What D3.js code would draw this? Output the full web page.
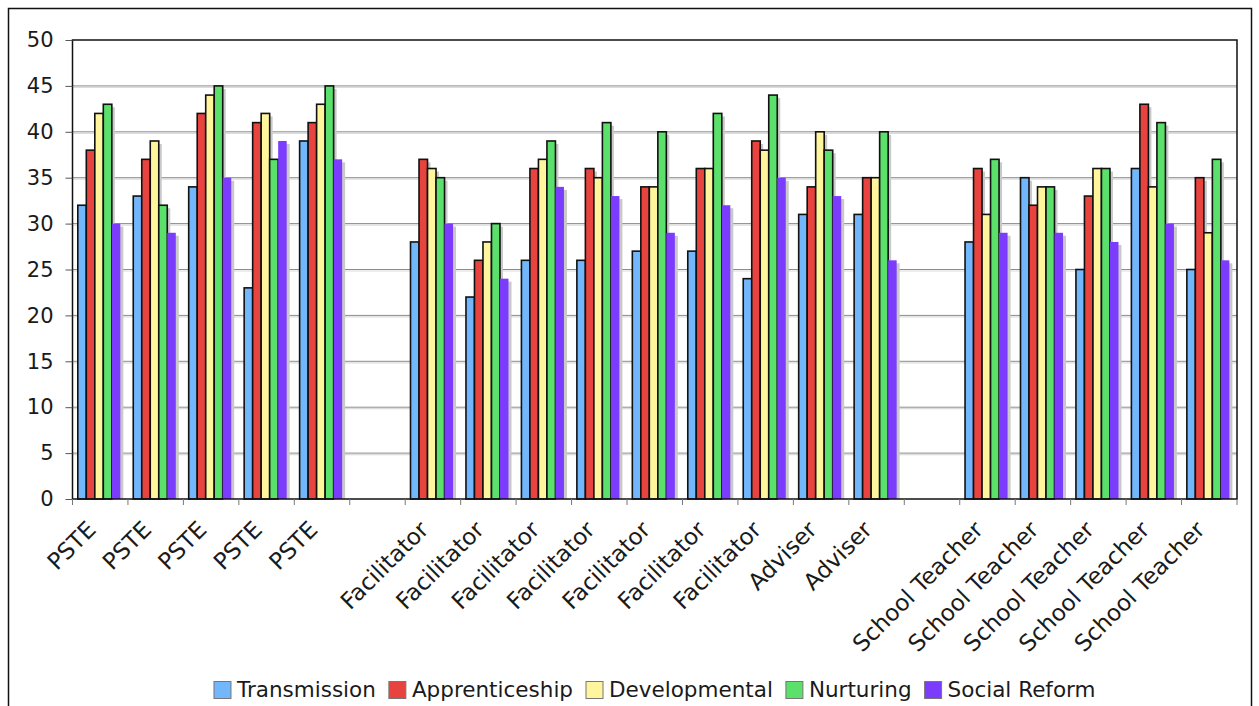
<!DOCTYPE html>
<html>
<head>
<meta charset="utf-8">
<script src="https://cdn.jsdelivr.net/npm/d3@7"></script>
<style>
  html, body { margin: 0; padding: 0; background: #fff; }
  svg { display: block; }
  text { font-family: "DejaVu Sans", Verdana, sans-serif; fill: #1a1a1a; }
</style>
</head>
<body>
<svg id="chart" width="1259" height="706"></svg>
<script>
// Teaching perspective scores per respondent (empty string = spacer slot)
const categories = [
  "PSTE", "PSTE", "PSTE", "PSTE", "PSTE", "",
  "Facilitator", "Facilitator", "Facilitator", "Facilitator", "Facilitator", "Facilitator", "Facilitator",
  "Adviser", "Adviser", "",
  "School Teacher", "School Teacher", "School Teacher", "School Teacher", "School Teacher"
];
const seriesNames = ["Transmission", "Apprenticeship", "Developmental", "Nurturing", "Social Reform"];
const transmission   = [32, 33, 34, 23, 39, null, 28, 22, 26, 26, 27, 27, 24, 31, 31, null, 28, 35, 25, 36, 25];
const apprenticeship = [38, 37, 42, 41, 41, null, 37, 26, 36, 36, 34, 36, 39, 34, 35, null, 36, 32, 33, 43, 35];
const developmental  = [42, 39, 44, 42, 43, null, 36, 28, 37, 35, 34, 36, 38, 40, 35, null, 31, 34, 36, 34, 29];
const nurturing      = [43, 32, 45, 37, 45, null, 35, 30, 39, 41, 40, 42, 44, 38, 40, null, 37, 34, 36, 41, 37];
const socialReform   = [30, 29, 35, 39, 37, null, 30, 24, 34, 33, 29, 32, 35, 33, 26, null, 29, 29, 28, 30, 26];
const yTicks = [0, 5, 10, 15, 20, 25, 30, 35, 40, 45, 50];
const colors = ["#72b6fc", "#e8443f", "#fff59c", "#5ae06b", "#7b3cfd"];

const seriesValues = [transmission, apprenticeship, developmental, nurturing, socialReform];

const svg = d3.select("#chart");
const plot = { left: 72.5, right: 1237, top: 40, bottom: 499 };

// outer frame
svg.append("rect")
  .attr("x", 8.5).attr("y", 8.5)
  .attr("width", 1243).attr("height", 720)
  .attr("fill", "#fff").attr("stroke", "#111").attr("stroke-width", 1.5);

const x0 = d3.scaleBand()
  .domain(d3.range(categories.length))
  .range([plot.left, plot.right])
  .paddingInner(0).paddingOuter(0);

const x1 = d3.scaleBand()
  .domain(seriesNames)
  .range([0, x0.bandwidth()])
  .paddingInner(0).paddingOuter(0.76).align(0.41);

const y = d3.scaleLinear().domain([0, 50]).range([plot.bottom, plot.top]);

// gridlines
const grid = svg.append("g");
grid.selectAll("line.shade").data(yTicks.slice(1, -1)).join("line")
  .attr("x1", plot.left).attr("x2", plot.right)
  .attr("y1", d => y(d) + 1.5).attr("y2", d => y(d) + 1.5)
  .attr("stroke", "#dcdcdc").attr("stroke-width", 1.2);
grid.selectAll("line.main").data(yTicks.slice(1, -1)).join("line")
  .attr("x1", plot.left).attr("x2", plot.right)
  .attr("y1", d => y(d)).attr("y2", d => y(d))
  .attr("stroke", "#8c8c8c").attr("stroke-width", 1);

// flatten data into bars
const bars = [];
categories.forEach((c, i) => {
  seriesNames.forEach((s, j) => {
    const v = seriesValues[j][i];
    if (v != null) bars.push({ i, s, j, v });
  });
});

// drop shadows behind bars
svg.append("g").selectAll("rect").data(bars).join("rect")
  .attr("x", d => x0(d.i) + x1(d.s) + 3)
  .attr("y", d => y(d.v) + 3)
  .attr("width", x1.bandwidth())
  .attr("height", d => y(0) - y(d.v) - 3)
  .attr("fill", "#c9c9c9");

// bars
svg.append("g").selectAll("rect").data(bars).join("rect")
  .attr("x", d => x0(d.i) + x1(d.s))
  .attr("y", d => y(d.v))
  .attr("width", x1.bandwidth())
  .attr("height", d => y(0) - y(d.v))
  .attr("fill", d => colors[d.j])
  .attr("stroke", d => d.j === 4 ? "none" : "#111")
  .attr("stroke-width", 1.6);

// plot frame
svg.append("rect")
  .attr("x", plot.left).attr("y", plot.top)
  .attr("width", plot.right - plot.left).attr("height", plot.bottom - plot.top)
  .attr("fill", "none").attr("stroke", "#111").attr("stroke-width", 1.5);

// y axis
const yAxis = d3.axisLeft(y).tickValues(yTicks).tickSize(7).tickPadding(12);
const gy = svg.append("g").attr("transform", `translate(${plot.left},0)`).call(yAxis);
gy.select(".domain").remove();
gy.selectAll(".tick line").attr("stroke", "#555");
gy.selectAll(".tick text")
  .style("font-family", '"DejaVu Sans", Verdana, sans-serif')
  .style("font-size", "21px").attr("fill", "#1a1a1a");

// x tick marks at slot boundaries
const bounds = d3.range(categories.length + 1).map(i => plot.left + i * x0.step());
svg.append("g").selectAll("line").data(bounds).join("line")
  .attr("x1", d => d).attr("x2", d => d)
  .attr("y1", plot.bottom).attr("y2", plot.bottom + 6)
  .attr("stroke", "#777").attr("stroke-width", 1);

// rotated category labels
svg.append("g").selectAll("text").data(categories.map((c, i) => ({ c, i })).filter(d => d.c))
  .join("text")
  .attr("transform", d => `translate(${x0(d.i) + x0.bandwidth() / 2 - 3},531) rotate(-45)`)
  .attr("text-anchor", "end")
  .style("font-size", "23px")
  .text(d => d.c);

// legend
const legend = svg.append("g");
let cx = 0;
seriesNames.forEach((s, j) => {
  const g = legend.append("g");
  g.append("rect").attr("x", 0).attr("y", -15.5).attr("width", 17).attr("height", 17)
    .attr("fill", colors[j]).attr("stroke", "#777").attr("stroke-width", 1);
  const t = g.append("text").attr("x", 23).attr("y", 0).style("font-size", "21.5px").text(s);
  const w = 23 + t.node().getComputedTextLength();
  g.attr("transform", `translate(${cx},0)`);
  cx += w + 13;
});
const totalW = cx - 13;
legend.attr("transform", `translate(${(plot.left + plot.right) / 2 - totalW / 2},697)`);
</script>
</body>
</html>
